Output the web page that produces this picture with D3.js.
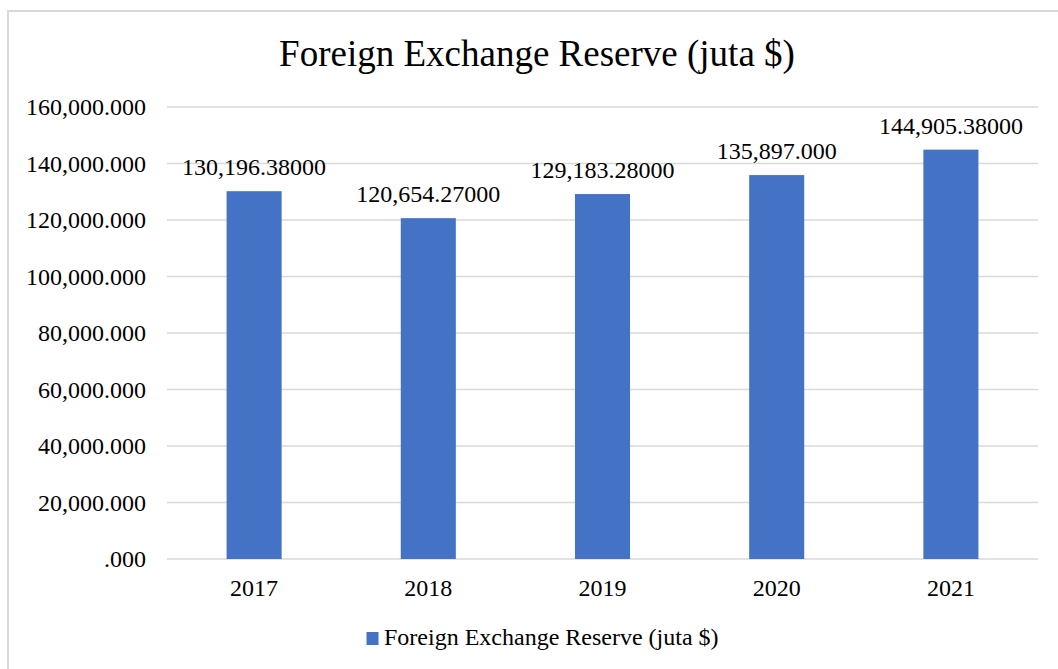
<!DOCTYPE html>
<html>
<head>
<meta charset="utf-8">
<script src="https://cdn.jsdelivr.net/npm/d3@7"></script>
<style>
  body { margin: 0; background: #fff; }
  text { font-family: "Liberation Serif", "Times New Roman", serif; fill: #000; }
</style>
</head>
<body>
<div id="chart"></div>
<script>
// data
var years = ["2017", "2018", "2019", "2020", "2021"];
var reserves = [130196.38, 120654.27, 129183.28, 135897, 144905.38];
var valueLabels = ["130,196.38000", "120,654.27000", "129,183.28000", "135,897.000", "144,905.38000"];
var yTicks = [0, 20000, 40000, 60000, 80000, 100000, 120000, 140000, 160000];
var chartTitle = "Foreign Exchange Reserve (juta $)";
var seriesName = "Foreign Exchange Reserve (juta $)";

var width = 1058, height = 669;
var plotLeft = 167, plotRight = 1038, plotTop = 107, plotBottom = 559;

var svg = d3.select("#chart").append("svg")
    .attr("width", width)
    .attr("height", height);

// chart area border (right/bottom edges fall outside the picture)
svg.append("rect")
    .attr("x", 8).attr("y", 11)
    .attr("width", 1070).attr("height", 680)
    .attr("fill", "none")
    .attr("stroke", "#d9d9d9")
    .attr("stroke-width", 2);

var x = d3.scaleBand()
    .domain(years)
    .range([plotLeft, plotRight])
    .paddingInner(0.684)
    .paddingOuter(0.342);

var y = d3.scaleLinear()
    .domain([0, 160000])
    .range([plotBottom, plotTop]);

// gridlines
svg.append("g").selectAll("line")
    .data(yTicks).enter().append("line")
    .attr("x1", plotLeft).attr("x2", plotRight)
    .attr("y1", function(d){ return y(d); })
    .attr("y2", function(d){ return y(d); })
    .attr("stroke", "#d9d9d9")
    .attr("stroke-width", 1.5);

// y axis labels
var fmt = d3.format(",.3f");
var yAxis = d3.axisLeft(y)
    .tickValues(yTicks)
    .tickSize(0)
    .tickPadding(21)
    .tickFormat(function(d){ return d === 0 ? ".000" : fmt(d); });
var yg = svg.append("g").attr("transform", "translate(" + plotLeft + ",0)").call(yAxis);
yg.select(".domain").remove();
yg.selectAll("text")
    .attr("font-size", 24)
    .attr("font-family", "Liberation Serif, Times New Roman, serif")
    .attr("fill", "#000")
    .attr("dy", "0.33em");

// x axis labels
var xAxis = d3.axisBottom(x).tickSize(0).tickPadding(20);
var xg = svg.append("g").attr("transform", "translate(0," + plotBottom + ")").call(xAxis);
xg.select(".domain").remove();
xg.selectAll("text")
    .attr("font-size", 24)
    .attr("font-family", "Liberation Serif, Times New Roman, serif")
    .attr("fill", "#000");

// bars
svg.append("g").selectAll("rect")
    .data(reserves).enter().append("rect")
    .attr("x", function(d, i){ return x(years[i]); })
    .attr("y", function(d){ return y(d); })
    .attr("width", x.bandwidth())
    .attr("height", function(d){ return plotBottom - y(d); })
    .attr("fill", "#4472c4");

// value labels
svg.append("g").selectAll("text")
    .data(reserves).enter().append("text")
    .attr("x", function(d, i){ return x(years[i]) + x.bandwidth() / 2; })
    .attr("y", function(d){ return y(d) - 16; })
    .attr("text-anchor", "middle")
    .attr("font-size", 24)
    .text(function(d, i){ return valueLabels[i]; });

// title
svg.append("text")
    .attr("x", 537).attr("y", 66)
    .attr("text-anchor", "middle")
    .attr("font-size", 37)
    .text(chartTitle);

// legend
svg.append("rect")
    .attr("x", 366.5).attr("y", 632)
    .attr("width", 12).attr("height", 13)
    .attr("fill", "#4472c4");
svg.append("text")
    .attr("x", 384).attr("y", 645)
    .attr("font-size", 24)
    .text(seriesName);
</script>
</body>
</html>
